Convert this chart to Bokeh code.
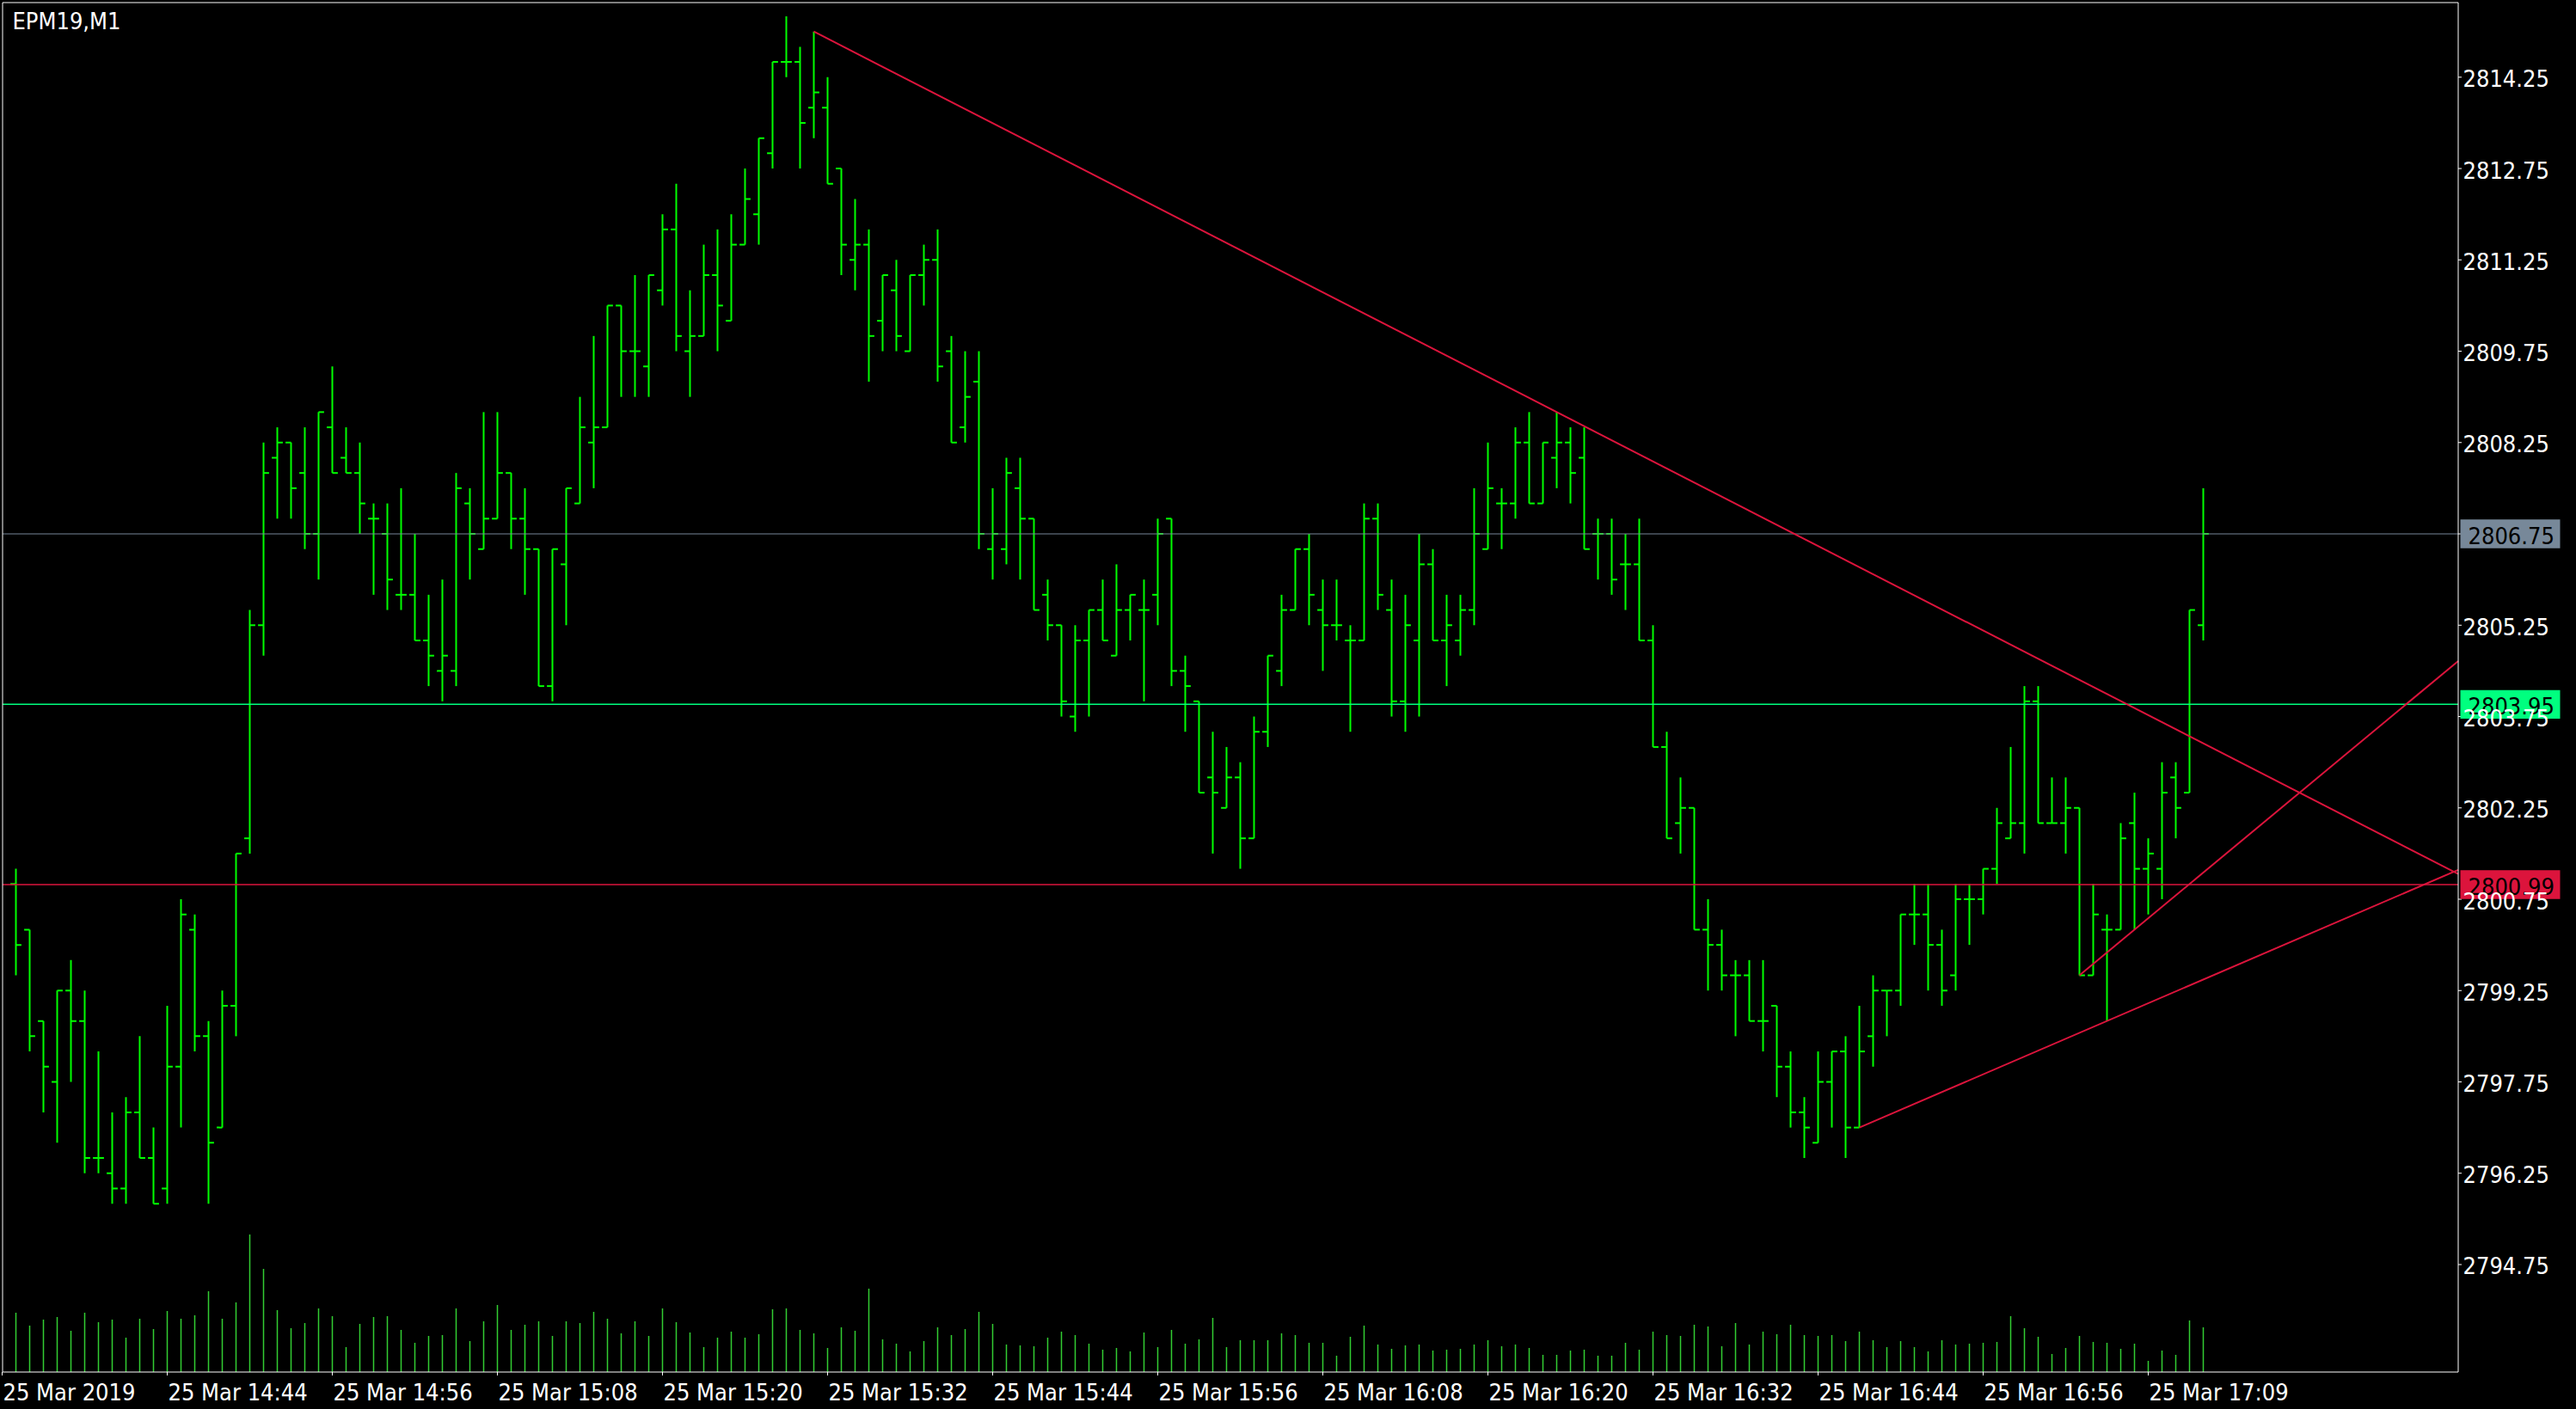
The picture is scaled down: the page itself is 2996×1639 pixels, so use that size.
from bokeh.plotting import figure
from bokeh.models import Range1d
from bokeh.core.properties import value
from bokeh.embed import file_html
from bokeh.resources import INLINE

# MT4 style OHLC chart, EPM19 one minute bars, 25 Mar 2019
symbol = "EPM19,M1"

# bar 0 = 14:33 ... bar 159 = last bar (17:13)
bar_index = list(range(0, 160))

open_ = [
    2801.0, 2800.25, 2798.75, 2797.75, 2799.25, 2798.75, 2796.5, 2796.25, 2796.0,
    2797.25, 2796.5, 2796.0, 2798.0, 2800.25, 2798.5, 2797.0, 2799.0, 2801.75, 2805.25,
    2808.0, 2808.25, 2807.75, 2806.75, 2808.5, 2808.0, 2807.75, 2807.0, 2806.75, 2805.75,
    2805.75, 2805.0, 2804.5, 2804.5, 2807.25, 2806.5, 2807.0, 2807.75, 2807.0, 2806.5,
    2804.25, 2806.25, 2807.25, 2808.25, 2808.5, 2810.5, 2809.75, 2809.5, 2810.75, 2811.75,
    2809.75, 2810.0, 2811.0, 2810.25, 2811.5, 2812.0, 2813.0, 2814.5, 2814.5, 2813.75,
    2813.75, 2812.75, 2811.25, 2811.5, 2810.25, 2810.75, 2809.75, 2811.0, 2811.25, 2809.75,
    2808.5, 2809.25, 2806.5, 2806.5, 2807.5, 2807.0, 2805.75, 2805.25, 2803.75, 2805.0,
    2805.5, 2804.75, 2805.5, 2805.5, 2805.75, 2807.0, 2804.5, 2804.0, 2802.75, 2802.25,
    2802.75, 2801.75, 2803.5, 2804.5, 2805.5, 2806.5, 2805.5, 2805.25, 2805.0, 2805.0,
    2807.0, 2805.5, 2804.0, 2805.0, 2806.25, 2805.0, 2805.0, 2805.5, 2806.5, 2807.25,
    2807.25, 2808.25, 2807.25, 2808.0, 2808.25, 2808.0, 2806.75, 2806.75, 2806.25, 2806.25,
    2805.0, 2803.25, 2802.0, 2802.25, 2800.25, 2800.0, 2799.5, 2799.5, 2798.75, 2799.0,
    2798.0, 2797.25, 2796.75, 2797.75, 2798.25, 2797.0, 2798.5, 2799.25, 2799.25, 2800.5,
    2800.5, 2800.0, 2799.5, 2800.75, 2800.75, 2801.25, 2801.75, 2802.0, 2804.0, 2802.0,
    2802.0, 2802.25, 2799.5, 2800.25, 2800.25, 2802.0, 2801.25, 2801.25, 2802.75, 2802.5,
    2805.25,
]
high = [
    2801.25, 2800.25, 2798.75, 2799.25, 2799.75, 2799.25, 2798.25, 2797.25, 2797.5,
    2798.5, 2797.0, 2799.0, 2800.75, 2800.5, 2798.75, 2799.25, 2801.5, 2805.5, 2808.25,
    2808.5, 2808.25, 2808.5, 2808.75, 2809.5, 2808.5, 2808.25, 2807.25, 2807.25, 2807.5,
    2806.75, 2805.75, 2806.0, 2807.75, 2807.5, 2808.75, 2808.75, 2807.75, 2807.5, 2806.5,
    2806.5, 2807.5, 2809.0, 2810.0, 2810.5, 2810.5, 2811.0, 2811.0, 2812.0, 2812.5,
    2810.75, 2811.5, 2811.75, 2812.0, 2812.75, 2813.25, 2814.5, 2815.25, 2814.75, 2815.0,
    2814.25, 2812.75, 2812.25, 2811.75, 2811.0, 2811.25, 2811.0, 2811.5, 2811.75, 2810.0,
    2809.75, 2809.75, 2807.5, 2808.0, 2808.0, 2807.0, 2806.0, 2805.25, 2805.25, 2805.5,
    2806.0, 2806.25, 2805.75, 2806.0, 2807.0, 2807.0, 2804.75, 2804.0, 2803.5, 2803.25,
    2803.0, 2803.75, 2804.75, 2805.75, 2806.5, 2806.75, 2806.0, 2806.0, 2805.25, 2807.25,
    2807.25, 2806.0, 2805.75, 2806.75, 2806.5, 2805.75, 2805.75, 2807.5, 2808.25, 2807.5,
    2808.5, 2808.75, 2808.25, 2808.75, 2808.5, 2808.5, 2807.0, 2807.0, 2806.75, 2807.0,
    2805.25, 2803.5, 2802.75, 2802.25, 2800.75, 2800.25, 2799.75, 2799.75, 2799.75, 2799.0,
    2798.25, 2797.5, 2798.25, 2798.25, 2798.5, 2799.0, 2799.5, 2799.25, 2800.5, 2801.0,
    2801.0, 2800.25, 2801.0, 2801.0, 2801.25, 2802.25, 2803.25, 2804.25, 2804.25, 2802.75,
    2802.75, 2802.25, 2801.0, 2800.5, 2802.0, 2802.5, 2801.75, 2803.0, 2803.0, 2805.5,
    2807.5,
]
low = [
    2799.5, 2798.25, 2797.25, 2796.75, 2797.75, 2796.25, 2796.25, 2795.75, 2795.75,
    2796.5, 2795.75, 2795.75, 2797.0, 2798.25, 2795.75, 2797.0, 2798.5, 2801.5, 2804.75,
    2807.0, 2807.0, 2806.5, 2806.0, 2807.75, 2807.75, 2806.75, 2805.75, 2805.5, 2805.5,
    2805.0, 2804.25, 2804.0, 2804.25, 2806.0, 2806.5, 2807.0, 2806.5, 2805.75, 2804.25,
    2804.0, 2805.25, 2807.25, 2807.5, 2808.5, 2809.0, 2809.0, 2809.0, 2810.5, 2809.75,
    2809.0, 2810.0, 2809.75, 2810.25, 2811.5, 2811.5, 2812.75, 2814.25, 2812.75, 2813.25,
    2812.5, 2811.0, 2810.75, 2809.25, 2809.75, 2809.75, 2809.75, 2810.5, 2809.25, 2808.25,
    2808.25, 2806.5, 2806.0, 2806.25, 2806.0, 2805.5, 2805.0, 2803.75, 2803.5, 2803.75,
    2805.0, 2804.75, 2805.0, 2804.0, 2805.25, 2804.25, 2803.5, 2802.5, 2801.5, 2802.25,
    2801.25, 2801.75, 2803.25, 2804.25, 2805.5, 2805.25, 2804.5, 2805.0, 2803.5, 2805.0,
    2805.5, 2803.75, 2803.5, 2803.75, 2805.0, 2804.25, 2804.75, 2805.25, 2806.5, 2806.5,
    2807.0, 2807.25, 2807.25, 2807.5, 2807.25, 2806.5, 2806.0, 2805.75, 2805.5, 2805.0,
    2803.25, 2801.75, 2801.5, 2800.25, 2799.25, 2799.25, 2798.5, 2798.75, 2798.25, 2797.5,
    2797.0, 2796.5, 2796.75, 2797.0, 2796.5, 2797.0, 2798.0, 2798.5, 2799.0, 2800.0,
    2799.25, 2799.0, 2799.25, 2800.0, 2800.5, 2801.0, 2801.75, 2801.5, 2802.0, 2802.0,
    2801.5, 2799.5, 2799.5, 2798.75, 2800.25, 2800.25, 2800.5, 2800.75, 2801.75, 2802.5,
    2805.0,
]
close = [
    2800.0, 2798.5, 2798.0, 2799.25, 2798.75, 2796.5, 2796.5, 2796.0, 2797.25,
    2796.5, 2795.75, 2798.0, 2800.5, 2798.5, 2796.75, 2799.0, 2801.5, 2805.25, 2807.75,
    2808.25, 2807.5, 2806.75, 2808.75, 2807.75, 2807.75, 2807.25, 2807.0, 2806.0, 2805.75,
    2805.0, 2804.75, 2804.75, 2807.5, 2806.75, 2807.0, 2807.75, 2807.0, 2806.5, 2804.25,
    2806.5, 2807.5, 2808.5, 2808.5, 2810.5, 2809.75, 2809.75, 2811.0, 2811.75, 2810.0,
    2810.0, 2811.0, 2810.5, 2811.5, 2812.25, 2813.25, 2814.5, 2814.5, 2813.5, 2814.0,
    2812.5, 2811.5, 2811.5, 2810.0, 2811.0, 2810.0, 2811.0, 2811.25, 2809.5, 2808.25,
    2809.0, 2806.75, 2806.75, 2807.75, 2807.0, 2805.5, 2805.25, 2804.0, 2805.0, 2805.5,
    2805.0, 2805.5, 2805.75, 2805.5, 2806.75, 2804.5, 2804.25, 2802.5, 2802.5, 2802.75,
    2801.75, 2803.5, 2804.75, 2805.5, 2806.5, 2805.75, 2805.25, 2805.25, 2805.0, 2807.0,
    2805.75, 2804.0, 2805.25, 2806.25, 2805.0, 2805.25, 2805.5, 2806.75, 2807.5, 2807.25,
    2808.25, 2807.25, 2808.25, 2808.25, 2807.75, 2806.5, 2806.75, 2806.0, 2806.25, 2805.0,
    2803.25, 2801.75, 2802.25, 2800.25, 2800.0, 2799.5, 2799.5, 2798.75, 2798.75, 2798.0,
    2797.25, 2797.0, 2797.75, 2798.25, 2797.0, 2798.25, 2799.25, 2799.25, 2800.5, 2800.5,
    2800.0, 2799.25, 2800.75, 2800.75, 2801.25, 2802.0, 2802.0, 2804.0, 2802.0, 2802.0,
    2802.25, 2799.5, 2800.5, 2800.25, 2801.75, 2801.25, 2801.5, 2802.5, 2802.25, 2805.5,
    2806.75,
]
# tick volume, arbitrary units
volume = [
    69, 54, 61, 64, 48, 69, 58, 61, 40,
    62, 50, 71, 62, 66, 94, 62, 81, 160, 120,
    72, 51, 57, 74, 65, 29, 56, 64, 65, 49,
    34, 42, 43, 74, 36, 59, 78, 49, 55, 59,
    42, 59, 57, 70, 62, 45, 59, 42, 74, 58,
    46, 29, 40, 47, 40, 44, 73, 74, 49, 45,
    28, 52, 48, 97, 38, 33, 24, 36, 52, 43,
    50, 70, 56, 32, 31, 30, 40, 47, 43, 33,
    26, 28, 24, 46, 29, 49, 33, 38, 63, 29,
    37, 37, 37, 45, 43, 34, 34, 19, 41, 54,
    32, 27, 31, 32, 25, 26, 27, 32, 37, 30,
    32, 28, 20, 20, 25, 26, 19, 19, 34, 26,
    47, 43, 42, 55, 53, 30, 57, 32, 47, 44,
    55, 43, 42, 43, 36, 47, 37, 29, 36, 29,
    24, 37, 32, 33, 34, 35, 65, 51, 41, 21,
    28, 42, 35, 34, 27, 33, 13, 25, 20, 60,
    52,
]

time_tick_bars = [-1, 11, 23, 35, 47, 59, 71, 83, 95, 107, 119, 131, 143, 155]
time_tick_labels = ["25 Mar 2019", "25 Mar 14:44", "25 Mar 14:56", "25 Mar 15:08",
                    "25 Mar 15:20", "25 Mar 15:32", "25 Mar 15:44", "25 Mar 15:56",
                    "25 Mar 16:08", "25 Mar 16:20", "25 Mar 16:32", "25 Mar 16:44",
                    "25 Mar 16:56", "25 Mar 17:09"]
price_ticks = [2814.25, 2812.75, 2811.25, 2809.75, 2808.25, 2806.75, 2805.25,
               2803.75, 2802.25, 2800.75, 2799.25, 2797.75, 2796.25, 2794.75]

bid = 2806.75
green_level = 2803.95
red_level = 2800.99

# trend lines, two anchor points each (bar, price), extended to the chart edge
down_trend = [(58, 2815.0), (112, 2808.75)]
low_trend = [(134, 2797.0), (152, 2798.75)]
up_trend = [(150, 2799.5), (154, 2800.25)]

FONT = value("DejaVu Sans Condensed")
FS = value("27px")
BAR_COLOR = "#00FF00"
VOL_COLOR = "#32CD32"
LINE_RED = "#DC143C"
GREEN_LINE = "#00FF7F"
BID_GRAY = "#778899"

# page geometry (the whole page is one frame, the chart box sits inside it)
W, H = 2996, 1639
BAR_PX = 16          # pixels per bar
PX = 70.83           # pixels per price point
X0_PX = 18           # pixel column of bar 0
REF_PRICE, REF_PX = 2814.25, 89.3
y_top = REF_PRICE + REF_PX / PX


def bx(px):
    return (px - X0_PX) / BAR_PX


def py(px):
    return y_top - px / PX


CH_L, CH_R = bx(2.5), bx(2858.5)
CH_T, CH_B = py(2.5), py(1595.5)
MID = 1.5 / PX       # text 'middle' sits a little below the digit centre

p = figure(width=W, height=H, x_range=Range1d(bx(0), bx(W)), y_range=Range1d(py(H), y_top),
           x_axis_location=None, y_axis_location=None, toolbar_location=None,
           output_backend="svg", min_border=0, outline_line_color=None,
           background_fill_color="black", border_fill_color="black")
p.xgrid.visible = False
p.ygrid.visible = False
p.extra_y_ranges = {"vol": Range1d(-(H - 1595.5), 1595.5)}

# volumes along the bottom of the chart
p.segment(x0=bar_index, y0=0, x1=bar_index, y1=volume, y_range_name="vol",
          line_color=VOL_COLOR, line_width=1.5)

# OHLC bars
tick = 0.4
p.segment(x0=bar_index, y0=low, x1=bar_index, y1=high, line_color=BAR_COLOR, line_width=2)
p.segment(x0=[i - tick for i in bar_index], y0=open_, x1=bar_index, y1=open_,
          line_color=BAR_COLOR, line_width=2)
p.segment(x0=bar_index, y0=close, x1=[i + tick for i in bar_index], y1=close,
          line_color=BAR_COLOR, line_width=2)

# horizontal levels
p.segment(x0=CH_L, x1=CH_R, y0=bid, y1=bid, line_color=BID_GRAY, line_width=1)
p.segment(x0=CH_L, x1=CH_R, y0=green_level, y1=green_level, line_color=GREEN_LINE, line_width=1.5)
p.segment(x0=CH_L, x1=CH_R, y0=red_level, y1=red_level, line_color=LINE_RED, line_width=1.5)


def extend(anchors, x_end):
    (x0, y0), (x1, y1) = anchors
    slope = (y1 - y0) / (x1 - x0)
    return [x0, x_end], [y0, y0 + slope * (x_end - x0)]


for tl in (down_trend, low_trend, up_trend):
    xs, ys = extend(tl, CH_R)
    p.line(xs, ys, line_color=LINE_RED, line_width=2)

# chart box
p.quad(left=CH_L, right=CH_R, top=CH_T, bottom=CH_B, fill_color=None,
       line_color="white", line_width=1)

# price scale ticks
p.segment(x0=CH_R, x1=bx(2862.5), y0=price_ticks, y1=price_ticks, line_color="white", line_width=1)


def price_box(level, fill):
    p.quad(left=bx(2861), right=bx(2977), top=level + 16.7 / PX, bottom=level - 16.7 / PX,
           fill_color=fill, line_color=None)
    p.text(x=[bx(2870)], y=[level - MID], text=[f"{level:.2f}"], text_color="black",
           text_font=FONT, text_font_size=FS, text_baseline="middle", text_align="left")


price_box(green_level, GREEN_LINE)
price_box(red_level, LINE_RED)

p.text(x=[bx(2864)] * len(price_ticks), y=[t - MID for t in price_ticks],
       text=[f"{t:.2f}" for t in price_ticks], text_color="white", text_font=FONT,
       text_font_size=FS, text_baseline="middle", text_align="left")

price_box(bid, BID_GRAY)

# time scale
p.segment(x0=time_tick_bars, x1=time_tick_bars, y0=CH_B, y1=py(1599.5),
          line_color="white", line_width=1)
p.text(x=[b + 1 / BAR_PX for b in time_tick_bars], y=[py(1618.5)] * len(time_tick_bars),
       text=time_tick_labels, text_color="white", text_font=FONT, text_font_size=FS,
       text_baseline="middle", text_align="left")

# symbol caption
p.text(x=[bx(14)], y=[py(23.5)], text=[symbol], text_color="white", text_font=FONT,
       text_font_size=FS, text_baseline="middle", text_align="left")

html = file_html(p, INLINE, title=symbol)
html = html.replace("</head>",
                    "<style>html,body{margin:0;padding:0;background:#000;overflow:hidden}</style></head>", 1)
open("out.html", "w").write(html)
